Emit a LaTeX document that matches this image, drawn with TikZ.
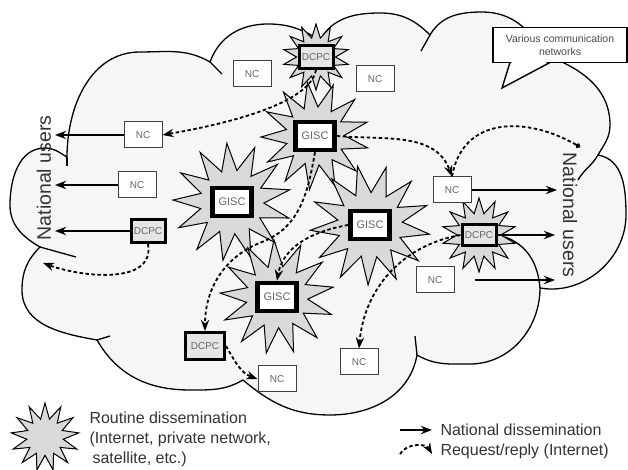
\documentclass[tikz,border=0pt]{standalone}
\usepackage{fontspec}
\setmainfont{Liberation Sans}
\usetikzlibrary{shapes.geometric,arrows.meta}
\definecolor{cloudgray}{HTML}{F6F6F6}
\definecolor{burstgray}{HTML}{D9D9D9}
\begin{document}
\begin{tikzpicture}[x=1pt,y=1pt,>=Stealth,
% common options for the centre boxes:
nc/.style = {draw=black!75, fill=white, line width=1pt, minimum width=38pt,
            minimum height=26pt, inner sep=0, font=\fontsize{10}{12}\selectfont, text=black!60},
dcpc/.style = {draw, fill=black!10, line width=3pt, minimum width=34pt,
            minimum height=23pt, inner sep=0, font=\fontsize{10}{12}\selectfont, text=black!60},
gisc/.style = {draw, fill=white, line width=4.5pt, minimum width=39pt,
            minimum height=28pt, inner sep=0, font=\fontsize{11}{13}\selectfont, text=black!60},
% common options for the bursts:
burst/.style = {star, star points=13, star point ratio=1.85, draw, fill=burstgray,
            line width=1pt, inner sep=0},
% common options for the connectors:
natl/.style = {->, line width=1.8pt},
reqrep/.style = {->, line width=1.8pt, dash pattern=on 3.5pt off 2.5pt}]
\useasboundingbox (0,0) rectangle (628,470);
% the cloud
\draw[fill=cloudgray, line width=1.3pt] (67,313) to[out=90,in=180] (140,418)
  to[out=0,in=150] (210,408) to[out=70,in=180] (268,446) to[out=0,in=150] (320,430)
  to[out=60,in=180] (380,457) to[out=0,in=135] (430,435) to[out=60,in=180] (482,458)
  to[out=0,in=120] (545,415) to[out=-20,in=90] (610,345) to[out=-90,in=60] (598,315)
  to[out=-10,in=90] (626,255) to[out=-90,in=-10] (540,182) to[out=-90,in=0] (470,106)
  to[out=180,in=-30] (417,115) to[out=-100,in=0] (330,55) to[out=180,in=-40] (243,90)
  to[out=-150,in=0] (190,80) to[out=180,in=-60] (97,130) to[out=170,in=-90] (22,180)
  to[out=90,in=-135] (40,223) to[out=150,in=-90] (10,265) to[out=90,in=180] (45,322)
  to[out=0,in=150] (67,313) -- cycle;
\draw[line width=1.3pt] (210,408) -- (222,396);
\draw[line width=1.3pt] (430,435) -- (421,419);
\draw[line width=1.3pt] (598,315) to[out=-120,in=60] (578,290);
\draw[line width=1.3pt] (505,233) to[out=-20,in=95] (540,182);
\draw[line width=1.3pt] (417,115) -- (415,134);
\draw[line width=1.3pt] (97,130) -- (110,134);
\draw[line width=1.3pt] (40,223) -- (76,213);
\draw[line width=1.3pt] (67,313) -- (67,304);
% bursts
\node[burst, minimum size=108pt, shape border rotate=8] (bgisc2) at (315,334) {};
\node[burst, minimum size=66pt, star points=14, star point ratio=1.7] (bdcpc1) at (316,413) {};
\node[burst, minimum size=118pt, shape border rotate=5] (bgisc1) at (232,268) {};
\node[burst, minimum size=120pt, shape border rotate=12] (bgisc3) at (370,245) {};
\node[burst, minimum size=114pt, shape border rotate=3] (bgisc4) at (277,173) {};
\node[burst, minimum size=74pt, star points=14, star point ratio=1.7] (bdcpc4) at (479,235) {};
% centres
\node[dcpc] (dcpc1) at (316,413) {DCPC};
\node[nc] (nc1) at (252,396) {NC};
\node[nc] (nc2) at (375,391) {NC};
\node[nc] (nc3) at (143,335) {NC};
\node[nc] (nc4) at (137,285) {NC};
\node[dcpc] (dcpc2) at (148,239) {DCPC};
\node[gisc] (gisc1) at (232,268) {GISC};
\node[gisc] (gisc2) at (315,334) {GISC};
\node[gisc] (gisc3) at (370,245) {GISC};
\node[gisc] (gisc4) at (277,173) {GISC};
\node[dcpc, minimum width=39pt, minimum height=27pt] (dcpc3) at (205,124) {DCPC};
\node[nc] (nc5) at (277,91) {NC};
\node[nc] (nc6) at (359,108) {NC};
\node[nc] (nc7) at (435,190) {NC};
\node[nc] (nc8) at (452,280) {NC};
\node[dcpc, minimum height=21pt] (dcpc4) at (479,235) {DCPC};
% users
\node[rotate=90, font=\fontsize{19.5}{22}\selectfont, text=black!80] (usrl) at (44,292) {National users};
\node[rotate=-90, font=\fontsize{19.5}{22}\selectfont, text=black!80] (usrr) at (570,255) {National users};
% callout
\node[draw, fill=white, line width=1.4pt, minimum width=134pt, minimum height=35pt, inner sep=0,
      align=center, font=\fontsize{10.5}{13}\selectfont, text=black!70] (vcn) at (560,425) {Various communication\\networks};
\coordinate (tip) at (502,382);
\fill[white] (512,408.5) -- (tip) -- (548,408.5) -- cycle;
\draw[line width=1.4pt] (510,407.5) -- (tip) -- (550,407.5);
% national dissemination
\coordinate (e1) at (55,335);
\coordinate (e2) at (55,285);
\coordinate (e3) at (55,239);
\coordinate (e4) at (557,280);
\coordinate (e5) at (555,235);
\coordinate (e6) at (555,190);
\draw[natl] (nc3.west) -- (e1);
\draw[natl] (nc4.west) -- (e2);
\draw[natl] (dcpc2.west) -- (e3);
\draw[natl] (nc8.east) -- (e4);
\draw[natl] (dcpc4.east) -- (e5);
\draw[natl, shorten <=20pt] (nc7.east) -- (e6);
% request/reply
\coordinate (ul) at (43,207);
\coordinate (ur) at (580,323);
\draw[reqrep] (dcpc1.south) to[out=-100,in=10,looseness=0.6] (nc3.east);
\draw[reqrep] (gisc2.east) to[out=-5,in=110] (nc8.north);
\draw[reqrep, -{Circle[length=5pt]}] (nc8.north) to[out=80,in=150,looseness=1.2] (ur);
\draw[reqrep] (gisc2.south) to[out=-100,in=21] (262,228) to[out=201,in=90] (dcpc3.north);
\draw[reqrep] (gisc3.west) to[out=190,in=80] (gisc4.north);
\draw[reqrep] (dcpc4.west) to[out=190,in=85] (nc6.north);
\draw[reqrep] (dcpc2.south) to[out=-80,in=-20] (ul);
\draw[reqrep] (dcpc3.east) to[out=-60,in=160] (nc5.west);
% legend
\node[burst, minimum size=68pt] (lburst) at (45,33) {};
\node[anchor=west, align=left, font=\fontsize{16}{20}\selectfont, text=black!80] (lroutine) at (86,31)
  {Routine dissemination\\(Internet, private network,\\\hspace{3pt}satellite, etc.)};
\coordinate (lna) at (400,40);
\coordinate (lnb) at (432,40);
\coordinate (lra) at (400,16);
\coordinate (lrb) at (432,16);
\draw[natl] (lna) -- (lnb);
\draw[reqrep] (lra) to[out=60,in=120] (lrb);
\node[anchor=west, font=\fontsize{16}{20}\selectfont, text=black!80] (lnat) at (437,40) {National dissemination};
\node[anchor=west, font=\fontsize{16}{20}\selectfont, text=black!80] (lreq) at (437,19) {Request/reply (Internet)};
\end{tikzpicture}
\end{document}
